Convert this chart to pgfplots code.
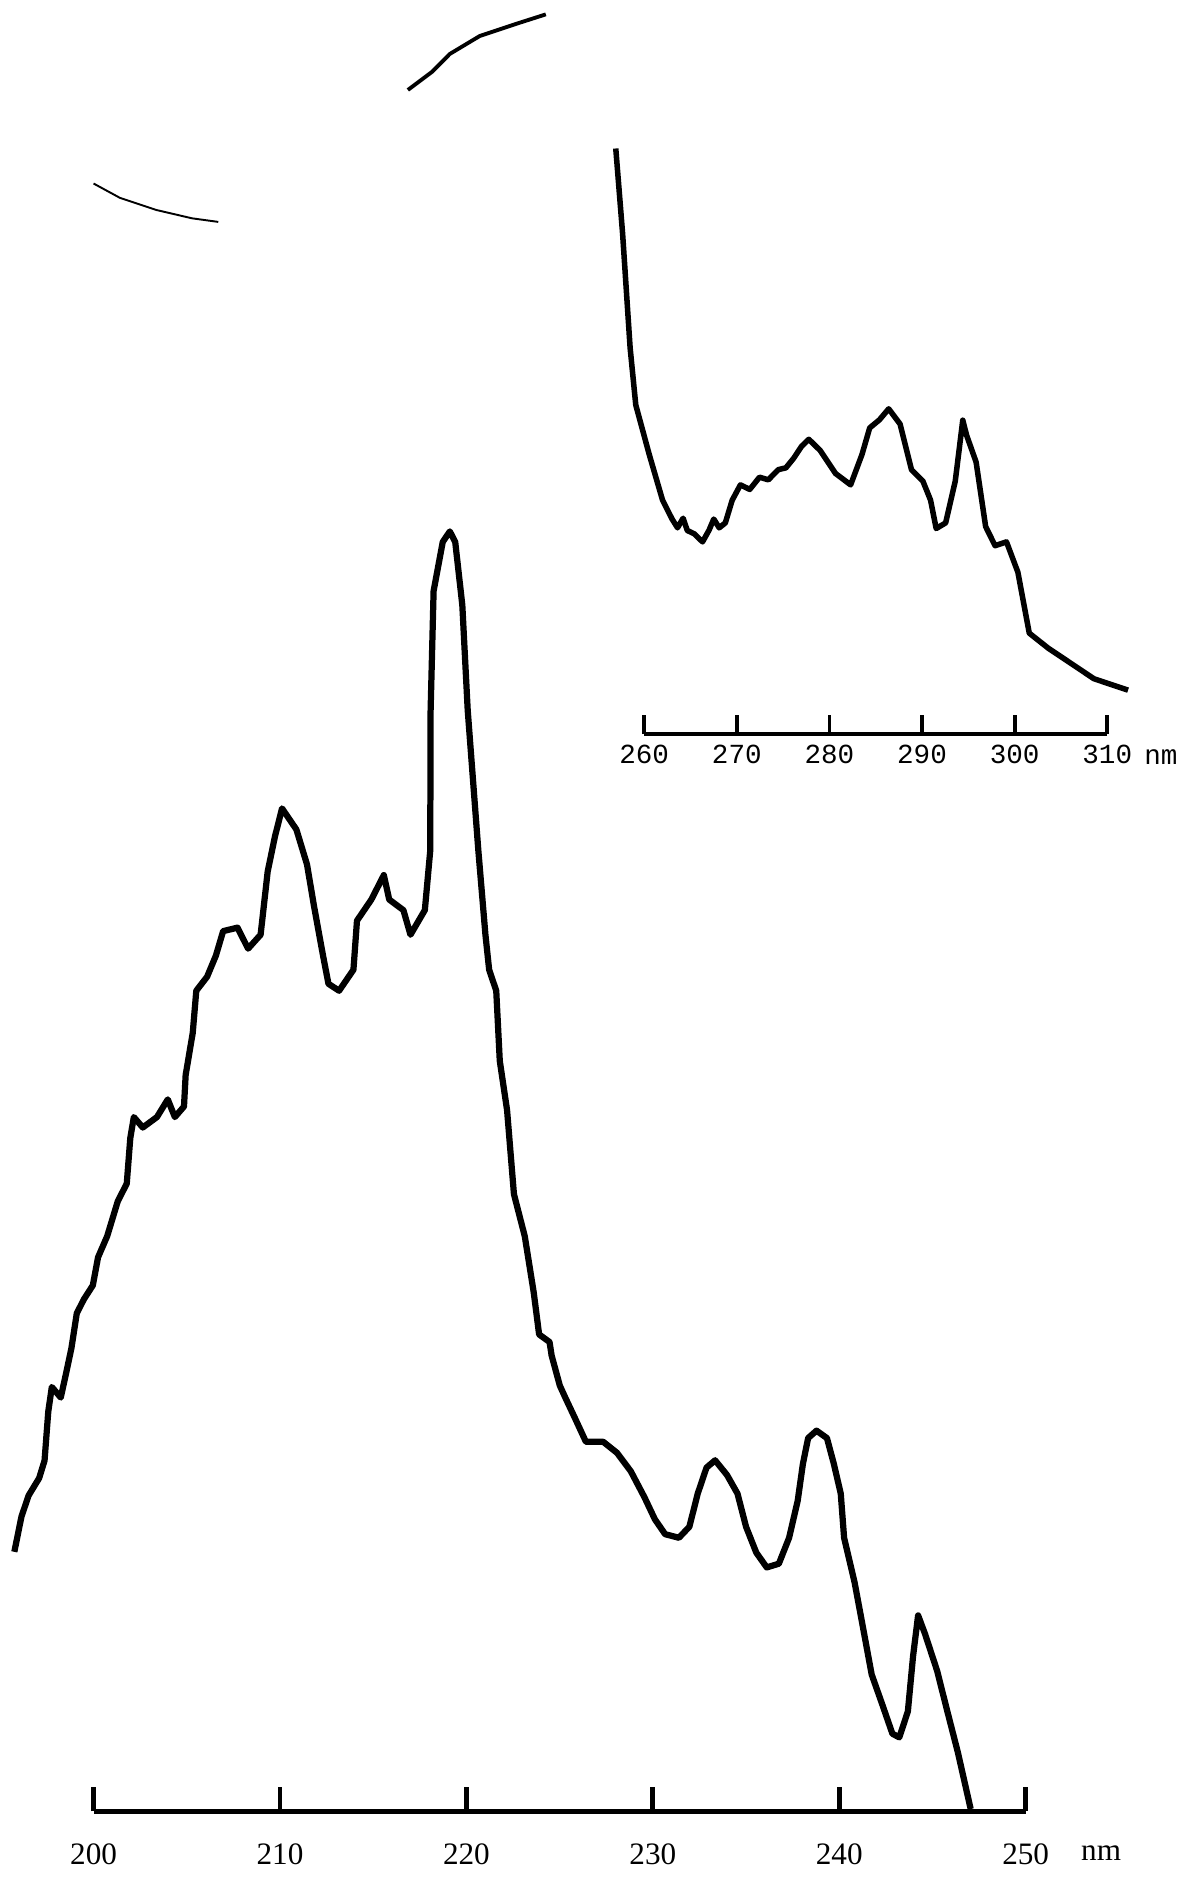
\documentclass[border=0pt]{standalone}
\usepackage{fontspec}
\setmainfont{Liberation Serif}
\newfontfamily\monofont{Liberation Mono}
\usepackage{pgfplots}
\pgfplotsset{compat=1.18}
\begin{document}
\begin{tikzpicture}
\useasboundingbox (0,0) rectangle (497pt,784pt);
% ---------------- main spectrum ----------------
\begin{axis}[
  at={(39pt,29pt)}, anchor=origin,
  scale only axis, width=388.5pt, height=555pt,
  xmin=200, xmax=250, ymin=0, ymax=1110,
  clip=false,
  axis x line*=bottom, axis y line=none,
  axis line style={line width=2pt, black},
  xtick={200,210,220,230,240,250},
  xtick align=inside,
  major tick length=10pt,
  every tick/.style={line width=2pt, black},
  xticklabel style={font=\fontsize{13}{15}\selectfont, yshift=-10pt},
  /pgf/number format/assume math mode=true,
  /pgf/number format/1000 sep={},
]
\addplot[black, line width=2.6pt, line join=round] coordinates {
(195.75,216.4) (196.13,245.6) (196.51,263.2) (197.08,277.8) (197.37,292.4)
(197.57,333.3) (197.76,353.8) (198.24,345) (198.53,365.5) (198.81,386)
(199.10,415.2) (199.48,426.9) (199.96,438.5) (200.24,461.9) (200.73,479.5)
(201.30,508.7) (201.78,523.3) (201.97,561.3) (202.16,578.8) (202.64,570.1)
(203.40,578.8) (203.98,593.5) (204.36,578.8) (204.85,587.6) (204.94,613.9)
(205.32,649) (205.51,684.1) (206.09,695.8) (206.56,713.3) (206.95,733.8)
(207.72,736.7) (208.29,719.2) (208.96,730.8) (209.34,783.5) (209.73,812.7)
(210.11,836.1) (210.88,818.5) (211.45,789.3) (211.83,754.2) (212.31,713.3)
(212.60,689.9) (213.17,684.1) (213.94,701.6) (214.13,742.5) (214.90,760.1)
(215.57,780.5) (215.86,760.1) (216.62,751.3) (217.00,730.8) (217.77,751.3)
(218.06,801) (218.08,917.9) (218.24,1017.3) (218.73,1058.2) (219.11,1067)
(219.40,1058.2) (219.78,1005.6) (220.07,917.9) (220.64,801) (221.02,730.8)
(221.22,701.6) (221.60,684.1) (221.79,625.6) (222.18,584.7) (222.55,514.5)
(223.13,479.5) (223.61,432.7) (223.90,397.6) (224.46,391.3) (224.57,380.1)
(225.01,355) (225.30,345.1) (225.86,326.6) (226.41,308.1) (227.34,308.1)
(228.08,298.9) (228.82,283.5) (229.55,261.9) (230.11,243.5) (230.66,231.1)
(231.40,228.1) (231.96,237.3) (232.41,265) (232.88,286.6) (233.34,292.7)
(233.98,280.4) (234.54,265) (235.00,237.3) (235.55,215.7) (236.11,203.4)
(236.76,206.5) (237.31,228.1) (237.77,258.9) (238.05,289.7) (238.33,311.2)
(238.78,317.4) (239.34,311.2) (239.71,289.7) (240.08,265) (240.26,228.1)
(240.82,191.1) (241.19,160.3) (241.74,114.1) (242.30,89.5) (242.85,64.8)
(243.22,61.7) (243.68,83.3) (243.96,129.5) (244.23,163.4) (244.60,148)
(245.25,117.2) (245.80,83.3) (246.36,49.4) (247.05,2)
};
% stray pen marks of the scanned chart
\addplot[black, line width=0.8pt] coordinates {
(200,1357) (201.42,1345) (203.35,1335) (205.28,1328) (206.69,1325)
};
\addplot[black, line width=1.6pt] coordinates {
(216.86,1435) (218.15,1450) (219.11,1465) (220.72,1480) (222.65,1490) (224.26,1498)
};
\node[font=\fontsize{13}{15}\selectfont, anchor=north] at (axis cs:254.05,0) [yshift=-11pt] {nm};
\end{axis}
% ---------------- inset spectrum ----------------
\begin{axis}[
  at={(268.5pt,478pt)}, anchor=origin,
  scale only axis, width=193pt, height=256pt,
  xmin=260, xmax=310, ymin=0, ymax=512,
  clip=false,
  axis x line*=bottom, axis y line=none,
  axis line style={line width=1.6pt, black},
  xtick={260,270,280,290,300,310},
  xtick align=inside,
  major tick length=8pt,
  every tick/.style={line width=1.6pt, black},
  xticklabel style={font=\monofont\fontsize{11.5}{13}\selectfont, yshift=-1pt},
  /pgf/number format/assume math mode=true,
  /pgf/number format/1000 sep={},
]
\addplot[black, line width=2.3pt, line join=round] coordinates {
(256.93,488.2) (257.67,417) (258.48,322) (259.09,274.4) (260.54,233.2)
(261.98,195.1) (263.01,179.3) (263.6,172) (264.2,180) (264.65,169.8)
(265.4,167) (266.30,160.3) (267.0,170) (267.51,179.3) (268.1,172)
(268.76,176.1) (269.5,195) (270.39,207.8) (271.4,204) (272.45,214.2)
(273.4,212) (274.49,220.5) (275.3,222) (276.14,230) (277.0,240)
(277.78,245.8) (279.02,236.3) (280.66,217.3) (282.29,207.8) (283.52,233.2)
(284.35,255.3) (285.4,262) (286.40,271.2) (287.63,258.5) (288.86,220.5)
(290.09,211) (290.92,195.1) (291.53,171.4) (292.55,176.1) (293.59,211)
(294.40,261.7) (294.82,249) (295.84,226.8) (296.87,173) (297.89,157.1)
(299.12,160.3) (300.35,135) (301.58,84.2) (303.64,71.6) (306.10,58.9)
(308.56,46.2) (312.25,36.7)
};
\node[font=\monofont\fontsize{11.5}{13}\selectfont, anchor=north] at (axis cs:315.8,0) [yshift=-3pt] {nm};
\end{axis}
\end{tikzpicture}
\end{document}
